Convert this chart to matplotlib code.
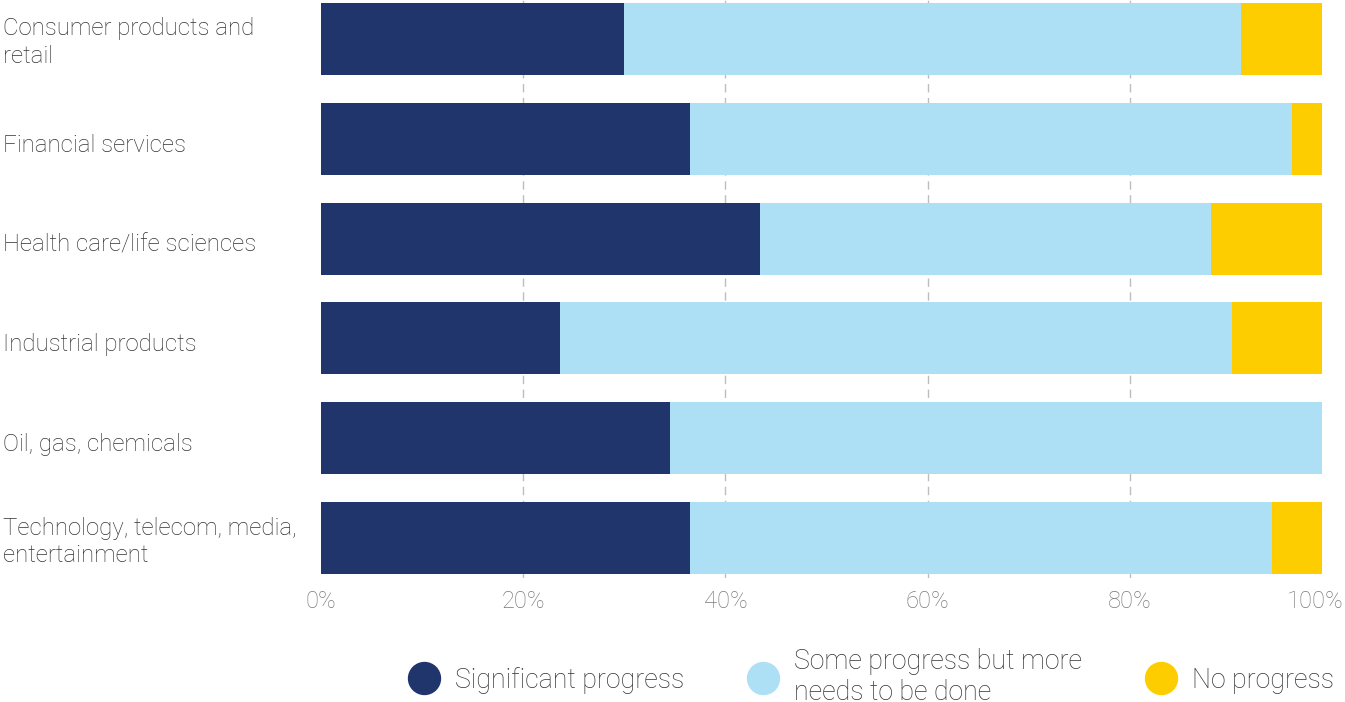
import matplotlib.pyplot as plt
import matplotlib.transforms as mtransforms
from matplotlib.lines import Line2D

plt.rcParams['font.family'] = ['Roboto', 'DejaVu Sans']

categories = [
    "Consumer products and\nretail",
    "Financial services",
    "Health care/life sciences",
    "Industrial products",
    "Oil, gas, chemicals",
    "Technology, telecom, media,\nentertainment",
]
significant = [30.0, 36.5, 43.4, 23.6, 34.5, 36.5]
some = [61.0, 59.5, 44.6, 66.5, 64.5, 57.6]
none_ = [8.0, 3.0, 11.0, 8.9, 0.0, 4.9]
series_names = ["Significant progress", "Some progress but more\nneeds to be done", "No progress"]
colors = ["#1f356b", "#addff5", "#fdcd00"]
tick_vals = [0, 20, 40, 60, 80, 100]
tick_labels = ["0%", "20%", "40%", "60%", "80%", "100%"]
grid_vals = [20, 40, 60, 80]

fig = plt.figure(figsize=(13.45, 7.02), dpi=100)
ax = fig.add_axes([318 / 1345, 1 - 578 / 702, 1014 / 1345, 578 / 702])

y = list(range(len(categories)))
left = [0.0] * len(categories)
for vals, c in zip([significant, some, none_], colors):
    ax.barh(y, vals, left=left, height=0.72, color=c, zorder=3)
    left = [l + v for l, v in zip(left, vals)]

for g in grid_vals:
    ax.axvline(g, color="#bdbdbd", linestyle=(0, (6, 4)), linewidth=1, zorder=1)

ax.set_xlim(-0.3, 100)
ax.set_ylim(5.4, -0.39)
ax.set_xticks(tick_vals)
ax.set_xticklabels(tick_labels, fontsize=17, color="#7a7a7a", fontweight="light")
ax.tick_params(axis="x", length=0, pad=9)
# pull the 100% label inward so it stays inside the figure
last = ax.get_xticklabels()[-1]
last.set_transform(last.get_transform() + mtransforms.ScaledTranslation(-17 / 100, 0, fig.dpi_scale_trans))

ax.set_yticks(y)
ax.set_yticklabels(categories, fontsize=17.3, color="#333333", fontweight="light",
                   ha="left", linespacing=1.25)
ax.tick_params(axis="y", length=0, pad=227)
for lab in ax.get_yticklabels():
    dy = 1 if "\n" in lab.get_text() else -4
    lab.set_transform(lab.get_transform() + mtransforms.ScaledTranslation(0, dy / 100, fig.dpi_scale_trans))
for s in ax.spines.values():
    s.set_visible(False)

handles = [Line2D([], [], marker="o", linestyle="none", markersize=23,
                  markerfacecolor=c, markeredgecolor=c) for c in colors]
leg = fig.legend(handles, series_names, loc="center", bbox_to_anchor=(871 / 1345, 1 - 677 / 702),
                 ncol=3, frameon=False, fontsize=19.3, handletextpad=0.55, columnspacing=2.35,
                 handlelength=1.2)
for t in leg.get_texts():
    t.set_color("#333333")
    t.set_fontweight("light")
    t.set_linespacing(1.15)

fig.savefig("out.png", dpi=100)
